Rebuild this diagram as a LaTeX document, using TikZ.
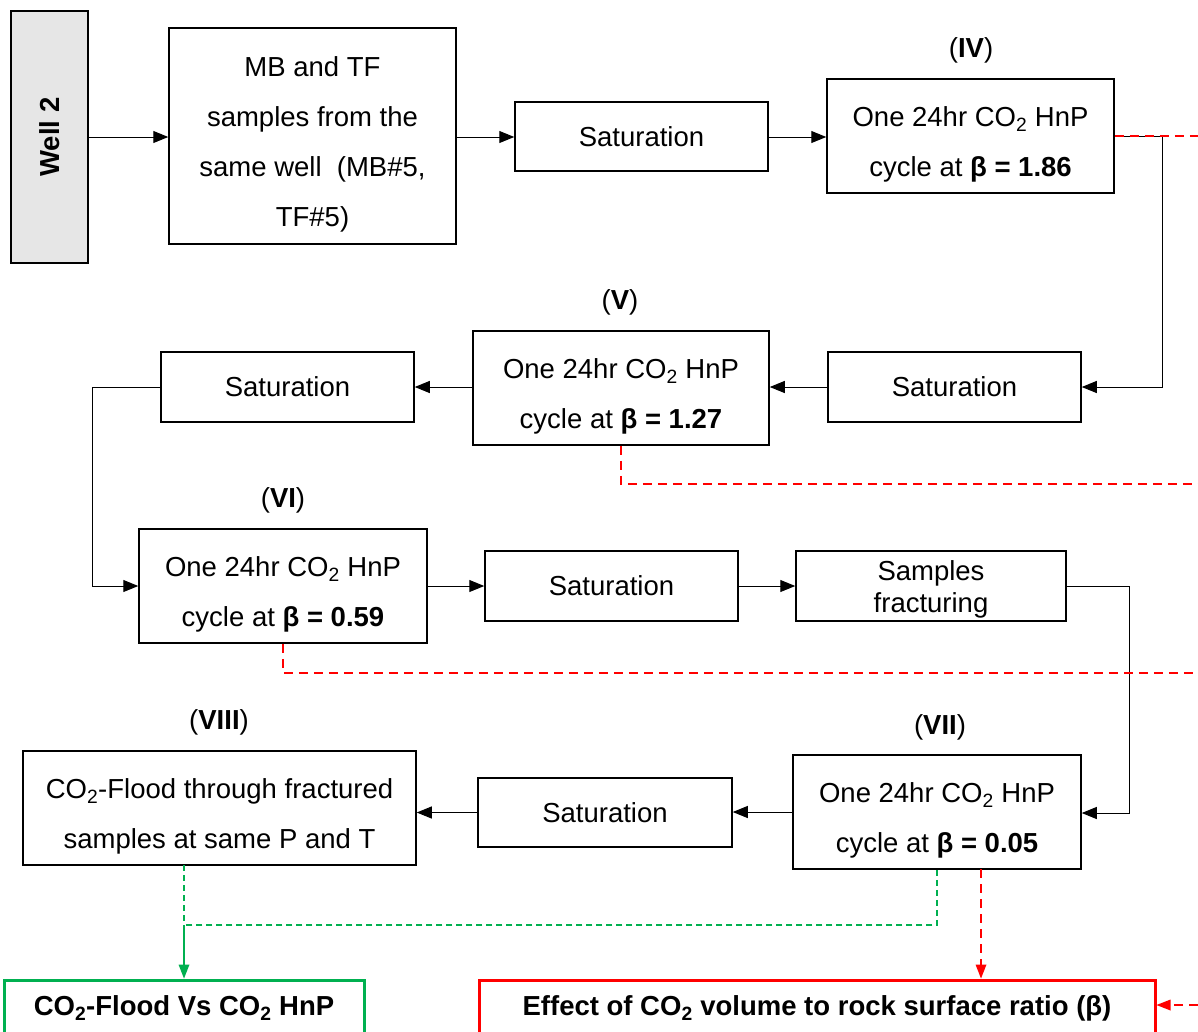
\documentclass[tikz,border=0pt]{standalone}
\usepackage{fontspec}
\setmainfont{Liberation Sans}
\usetikzlibrary{arrows.meta,calc}
\definecolor{rgreen}{RGB}{0,176,80}
\definecolor{rred}{RGB}{255,0,0}
\definecolor{wgray}{RGB}{230,230,230}
\newcommand{\topstrut}{\rule{0pt}{36pt}}
\begin{document}
\begin{tikzpicture}[x=1pt,y=-1pt,
  box/.style={draw,line width=1.5pt,inner sep=0pt,align=center,
    font=\fontsize{27.5}{50}\selectfont},
  lbl/.style={inner sep=0pt,font=\fontsize{27.5}{33}\selectfont},
  conn/.style={line width=1pt,-{Triangle[length=15pt,width=12pt]}},
  reddash/.style={rred,line width=1.3pt,dash pattern=on 9pt off 6pt},
  greendash/.style={rgreen,line width=1.3pt,dash pattern=on 6pt off 4pt}]
\clip (0,0) rectangle (1198,1031);
\fill[white] (0,0) rectangle (1198,1031);

% nodes
\node[box,fill=wgray,minimum width=77pt,minimum height=252pt] (well) at (49.5,137)
  {\rotatebox{90}{\bfseries Well 2}};
\node[box,minimum width=287pt,minimum height=216pt] (mb) at (312.5,136)
  {\topstrut MB and TF\\samples from the\\same well\ \ (MB\#5,\\TF\#5)};
\node[box,minimum width=253pt,minimum height=69pt] (sat1) at (641.5,136.5) {Saturation};
\node[box,minimum width=287pt,minimum height=114pt] (iv) at (970.5,136)
  {\topstrut One 24hr CO\textsubscript{2} HnP\\cycle at \textbf{β = 1.86}};
\node[lbl] (liv) at (971,50) {(\textbf{IV})};

\node[box,minimum width=253pt,minimum height=70pt] (sat2) at (954.5,387) {Saturation};
\node[box,minimum width=296pt,minimum height=114pt] (v) at (621,388)
  {\topstrut One 24hr CO\textsubscript{2} HnP\\cycle at \textbf{β = 1.27}};
\node[lbl] (lv) at (620,302) {(\textbf{V})};
\node[box,minimum width=253pt,minimum height=70pt] (sat3) at (287.5,387) {Saturation};

\node[box,minimum width=288pt,minimum height=114pt] (vi) at (283,586)
  {\topstrut One 24hr CO\textsubscript{2} HnP\\cycle at \textbf{β = 0.59}};
\node[lbl] (lvi) at (283,500) {(\textbf{VI})};
\node[box,minimum width=253pt,minimum height=70pt] (sat4) at (611.5,586) {Saturation};
\node[box,minimum width=270pt,minimum height=70pt,font=\fontsize{27.5}{32}\selectfont] (sf) at (931,586)
  {\rule{0pt}{26pt}Samples\\fracturing};

\node[box,minimum width=288pt,minimum height=114pt] (vii) at (937,812)
  {\topstrut One 24hr CO\textsubscript{2} HnP\\cycle at \textbf{β = 0.05}};
\node[lbl] (lvii) at (940,727) {(\textbf{VII})};
\node[box,minimum width=254pt,minimum height=69pt] (sat5) at (605,812.5) {Saturation};
\node[box,minimum width=393pt,minimum height=114pt] (viii) at (219.5,808)
  {\topstrut CO\textsubscript{2}-Flood through fractured\\samples at same P and T};
\node[lbl] (lviii) at (219,722) {(\textbf{VIII})};

\node[box,draw=rgreen,line width=3pt,minimum width=360pt,minimum height=56pt] (green) at (184,1008)
  {\bfseries CO\textsubscript{2}-Flood Vs CO\textsubscript{2} HnP};
\node[box,draw=rred,line width=3pt,minimum width=676pt,minimum height=56pt] (red) at (817,1008)
  {\bfseries Effect of CO\textsubscript{2} volume to rock surface ratio (β)};

% coordinates
\coordinate (k1) at (1162,387);
\coordinate (k2) at (92,586);
\coordinate (k3) at (1129,813);
\coordinate (r1) at (1198,136);
\coordinate (r2) at (1198,484);
\coordinate (r3) at (1198,673);
\coordinate (r4) at (1198,1005);
\coordinate (gx) at (184,865);
\coordinate (gj) at (184,925);
\coordinate (vr) at (981,869);

% black connectors
\draw[conn] (well.east |- 0,137) -- (mb.west |- 0,137);
\draw[conn] (mb.east |- 0,137) -- (sat1.west |- 0,137);
\draw[conn] (sat1.east |- 0,137) -- (iv.west |- 0,137);
\draw[conn] (iv.east) -| (k1) -- (sat2.east);
\draw[conn] (sat2.west) -- (v.east |- sat2.west);
\draw[conn] (v.west |- sat3.east) -- (sat3.east);
\draw[conn] (sat3.west) -| (k2) -- (vi.west);
\draw[conn] (vi.east) -- (sat4.west);
\draw[conn] (sat4.east) -- (sf.west);
\draw[conn] (sf.east) -| (k3) -- (vii.east |- k3);
\draw[conn] (vii.west) -- (sat5.east |- vii.west);
\draw[conn] (sat5.west) -- (viii.east |- sat5.west);

% red dashed
\draw[reddash] (iv.east) -- (r1);
\draw[reddash] (v.south) |- (r2);
\draw[reddash] (vi.south) |- (r3);
\draw[reddash] (vr) -- ($(vr |- red.north)+(0,-14)$);
\fill[rred] (vr |- red.north) -- ++(-5.5,-14) -- ++(11,0) -- cycle;
\draw[reddash] (r4) -- ($(red.east |- r4)+(14,0)$);
\fill[rred] (red.east |- r4) -- ++(14,-5.5) -- ++(0,11) -- cycle;

% green
\draw[greendash] (gx) -- (gj);
\draw[greendash] (vii.south) |- (gj);
\draw[rgreen,line width=1.3pt] (gj) -- ($(green.north)+(0,-14)$);
\fill[rgreen] (green.north) -- ++(-5.5,-14) -- ++(11,0) -- cycle;
\end{tikzpicture}
\end{document}
